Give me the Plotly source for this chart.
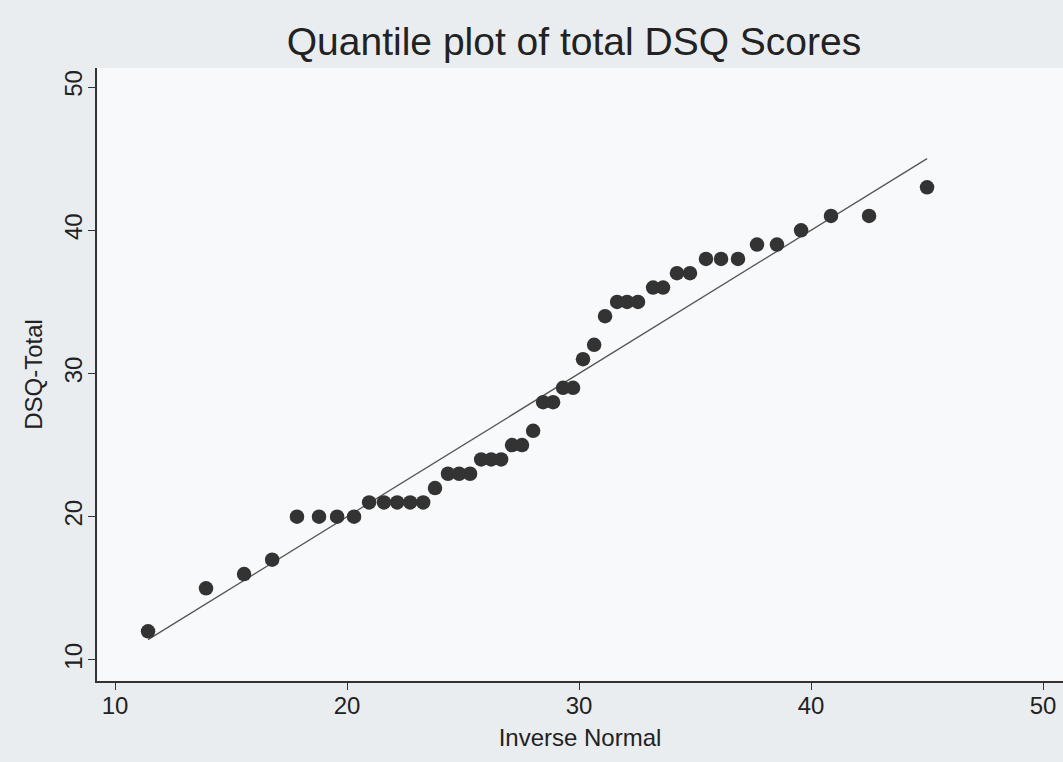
import plotly.graph_objects as go

# Inverse normal quantiles (x) and DSQ total scores (y)
inverse_normal = [11.42, 13.92, 15.56, 16.77, 17.84, 18.79, 19.57, 20.30, 20.95, 21.59,
                  22.16, 22.72, 23.28, 23.79, 24.35, 24.83, 25.30, 25.78, 26.21, 26.64,
                  27.11, 27.54, 28.02, 28.45, 28.88, 29.31, 29.74, 30.17, 30.65, 31.12,
                  31.64, 32.07, 32.54, 33.19, 33.62, 34.22, 34.78, 35.47, 36.12, 36.85,
                  37.67, 38.53, 39.57, 40.86, 42.50, 45.00]
dsq_total = [12, 15, 16, 17, 20, 20, 20, 20, 21, 21,
             21, 21, 21, 22, 23, 23, 23, 24, 24, 24,
             25, 25, 26, 28, 28, 29, 29, 31, 32, 34,
             35, 35, 35, 36, 36, 37, 37, 38, 38, 38,
             39, 39, 40, 41, 41, 43]
tick_vals = [10, 20, 30, 40, 50]

line_x = [min(inverse_normal), max(inverse_normal)]
line_y = line_x

FONT = "Liberation Sans, Arial, Helvetica, sans-serif"

fig = go.Figure()
fig.add_trace(go.Scatter(x=line_x, y=line_y, mode="lines",
                         line=dict(color="#555555", width=1.3), hoverinfo="skip"))
fig.add_trace(go.Scatter(x=inverse_normal, y=dsq_total, mode="markers",
                         marker=dict(color="#333333", size=14.5, line=dict(width=0))))

fig.update_layout(
    width=1063, height=762,
    paper_bgcolor="#eaedf0", plot_bgcolor="#f8f9fa",
    showlegend=False,
    margin=dict(l=97, r=0, t=68, b=81),
    font=dict(family=FONT, color="#222222"),
    title=dict(text="Quantile plot of total DSQ Scores", x=0.540, xanchor="center",
               y=1 - 41 / 762, yanchor="middle", font=dict(size=39, color="#222222")),
)
fig.update_xaxes(range=[9.22, 50.86], tickvals=tick_vals, showgrid=False, zeroline=False,
                 showline=True, linecolor="#333333", linewidth=1.5,
                 ticks="outside", ticklen=7, tickcolor="#333333", tickwidth=1.2,
                 ticklabelstandoff=-5,
                 tickfont=dict(size=24, color="#222222"),
                 title=dict(text="Inverse Normal", font=dict(size=24, color="#222222"), standoff=12))
fig.update_yaxes(range=[8.53, 51.33], tickvals=tick_vals, showgrid=False, zeroline=False,
                 showline=True, linecolor="#333333", linewidth=1.5,
                 ticks="outside", ticklen=7, tickcolor="#333333", tickwidth=1.2,
                 tickangle=-90, ticklabelstandoff=-3,
                 tickfont=dict(size=24, color="#222222"),
                 title=dict(text="DSQ-Total", font=dict(size=24, color="#222222"), standoff=10))

fig.write_html("out.html", config={"displayModeBar": False},
               post_script="document.body.style.margin='0';")
